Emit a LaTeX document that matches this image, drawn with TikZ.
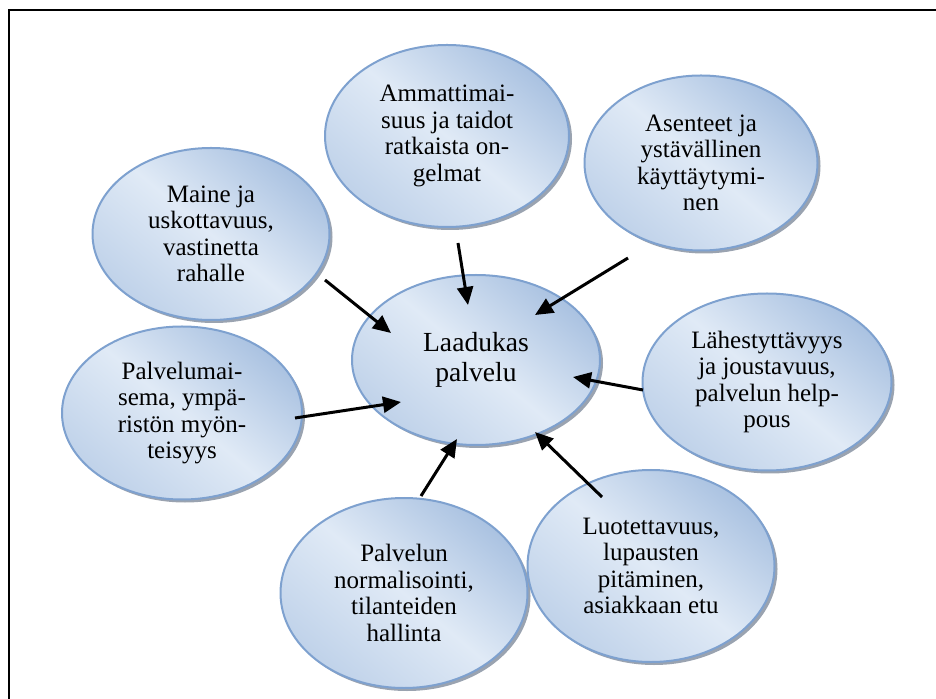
\documentclass[tikz,border=0pt]{standalone}
\usepackage{fontspec}
\setmainfont{Liberation Serif}
\usetikzlibrary{shapes.geometric,shadows,arrows.meta,calc}

\definecolor{bubbledark}{RGB}{170,194,225}
\definecolor{bubblelight}{RGB}{224,234,246}
\definecolor{bubbleedge}{RGB}{126,161,207}
\definecolor{bubbleshadow}{RGB}{120,132,150}

\tikzset{
  bubble/.style={ellipse, draw=bubbleedge, line width=1pt, inner sep=0pt,
    top color=bubbledark, bottom color=bubbledark!60!bubblelight,
    middle color=bubblelight, shading angle=-40,
    drop shadow={shadow xshift=1.5pt, shadow yshift=-1.5pt,
      fill=bubbleshadow, opacity=0.75},
    align=center, font=\fontsize{12.5}{13.2}\selectfont},
  arr/.style={line width=1.5pt, -{Triangle[length=9pt,width=8pt]}},
}

\begin{document}
\begin{tikzpicture}[x=0.5pt,y=-0.5pt]
  \clip (0,0) rectangle (936,699);
  % outer frame, running past the right and lower edges
  \draw[line width=1.1pt] (9,10) rectangle (960,720);

  % centre
  \node[bubble, minimum width=124pt, minimum height=85pt,
        font=\fontsize{13.8}{15}\selectfont] (C) at (476,360)
        {Laadukas\\palvelu};

  % surrounding factors
  \node[bubble, minimum width=122pt, minimum height=91pt] (A) at (447,136)
        {Ammattimai-\\suus ja taidot\\ratkaista on-\\gelmat};
  \node[bubble, minimum width=116.5pt, minimum height=87.5pt] (B) at (701,163)
        {Asenteet ja\\ystävällinen\\käyttäytymi-\\nen};
  \node[bubble, minimum width=118.5pt, minimum height=86pt] (M) at (211,234)
        {Maine ja\\uskottavuus,\\vastinetta\\rahalle};
  \node[bubble, minimum width=124.5pt, minimum height=88.5pt] (L) at (767,382)
        {Lähestyttävyys\\ja joustavuus,\\palvelun help-\\pous};
  \node[bubble, minimum width=120pt, minimum height=86.5pt] (P) at (182,413)
        {Palvelumai-\\sema, ympä-\\ristön myön-\\teisyys};
  \node[bubble, minimum width=123.5pt, minimum height=95pt] (N) at (404,593)
        {Palvelun\\normalisointi,\\tilanteiden\\hallinta};
  \node[bubble, minimum width=123.5pt, minimum height=96pt] (T) at (651,566)
        {Luotettavuus,\\lupausten\\pitäminen,\\asiakkaan etu};

  % arrow starts, just off each outer bubble
  \coordinate (sA) at ($(A)+(11,107)$);
  \coordinate (sB) at ($(B)+(-73,95)$);
  \coordinate (sM) at ($(M)+(114,46)$);
  \coordinate (sL) at ($(L)+(-124,8)$);
  \coordinate (sP) at ($(P)+(113,5)$);
  \coordinate (sN) at ($(N)+(17,-97)$);
  \coordinate (sT) at ($(T)+(-49,-69)$);

  % arrow tips, inside the centre bubble
  \coordinate (tA) at ($(C)+(-8,-55)$);
  \coordinate (tB) at ($(C)+(59,-45)$);
  \coordinate (tM) at ($(C)+(-85,-27)$);
  \coordinate (tL) at ($(C)+(97,17)$);
  \coordinate (tP) at ($(C)+(-75,42)$);
  \coordinate (tN) at ($(C)+(-19,79)$);
  \coordinate (tT) at ($(C)+(59,72)$);

  \draw[arr] (sA) -- (tA);
  \draw[arr] (sB) -- (tB);
  \draw[arr] (sM) -- (tM);
  \draw[arr] (sL) -- (tL);
  \draw[arr] (sP) -- (tP);
  \draw[arr] (sN) -- (tN);
  \draw[arr] (sT) -- (tT);
\end{tikzpicture}
\end{document}
